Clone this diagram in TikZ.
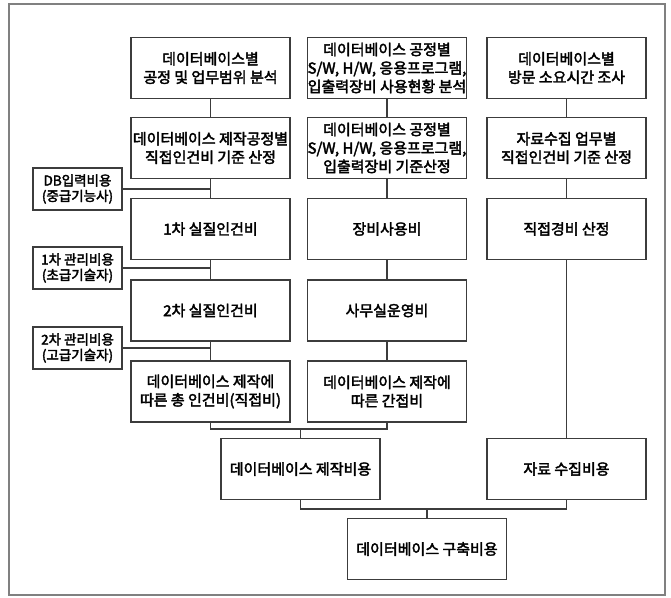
\documentclass[tikz,border=0pt]{standalone}
\usepackage{fontspec}
\setmainfont{Noto Sans CJK KR}
\newfontfamily\medfont[FakeBold=2.6]{Noto Sans CJK KR}
\usepackage{tikz}
\usetikzlibrary{calc}
\definecolor{linegray}{RGB}{60,60,60}
\tikzset{
  box/.style={draw=linegray,line width=1.2pt,minimum width=159pt,minimum height=61pt,inner sep=0pt,align=center,
    font=\medfont\fontsize{15}{18.5}\selectfont},
  sidebox/.style={draw=linegray,line width=1.2pt,minimum width=89pt,minimum height=42pt,inner sep=0pt,align=center,
    font=\medfont\fontsize{13.5}{15.5}\selectfont},
  link/.style={draw=linegray,line width=1.2pt}
}

\begin{document}
\begin{tikzpicture}[x=1pt,y=-1pt]
\useasboundingbox (0,0) rectangle (671,597);
\draw [gray,line width=1.4pt] (9,4) rectangle (665,595);
% column 1
\node [box] (a1) at (210.5,68) {데이터베이스별\\공정 및 업무범위 분석};
\node [box] (a2) at (210.5,148) {데이터베이스 제작공정별\\직접인건비 기준 산정};
\node [box] (a3) at (210.5,229) {1차 실질인건비};
\node [box] (a4) at (210.5,310.5) {2차 실질인건비};
\node [box] (a5) at (210.5,391.5) {데이터베이스 제작에\\따른 총 인건비(직접비)};
% column 2
\node [box] (b1) at (387,68) {데이터베이스 공정별\\S/W, H/W, 응용프로그램,\\입출력장비 사용현황 분석};
\node [box] (b2) at (387,148) {데이터베이스 공정별\\S/W, H/W, 응용프로그램,\\입출력장비 기준산정};
\node [box] (b3) at (387,229) {장비사용비};
\node [box] (b4) at (387,310.5) {사무실운영비};
\node [box] (b5) at (387,391.5) {데이터베이스 제작에\\따른 간접비};
% column 3
\node [box] (c1) at (566.5,68) {데이터베이스별\\방문 소요시간 조사};
\node [box] (c2) at (566.5,148) {자료수집 업무별\\직접인건비 기준 산정};
\node [box] (c3) at (566.5,229) {직접경비 산정};
% side costs
\node [sidebox] (s1) at (77.5,189) {DB입력비용\\(중급기능사)};
\node [sidebox] (s2) at (77.5,268) {1차 관리비용\\(초급기술자)};
\node [sidebox] (s3) at (77.5,348) {2차 관리비용\\(고급기술자)};
% totals
\node [box] (d1) at (300.5,469) {데이터베이스 제작비용};
\node [box] (d2) at (566.5,469) {자료 수집비용};
\node [box] (e) at (427,549) {데이터베이스 구축비용};
\coordinate (j1) at (300.5,429);
\coordinate (j2) at (427,509);
%
\draw [link] (a1) -- (a2);
\draw [link] (a2) -- (a3);
\draw [link] (a3) -- (a4);
\draw [link] (a4) -- (a5);
\draw [link] (b1) -- (b2);
\draw [link] (b2) -- (b3);
\draw [link] (b3) -- (b4);
\draw [link] (b4) -- (b5);
\draw [link] (c1) -- (c2);
\draw [link] (c2) -- (c3);
\draw [link] (c3) -- (d2);
\draw [link] (s1.east) -- (s1.east -| a2.south);
\draw [link] (s2.east) -- (s2.east -| a3.south);
\draw [link] (s3.east) -- (s3.east -| a4.south);
%
\draw [link] (a5.south) -- (a5.south |- j1) -- (b5.south |- j1) -- (b5.south);
\draw [link] (j1) -- (d1.north);
\draw [link] (d1.south) -- (d1.south |- j2) -- (d2.south |- j2) -- (d2.south);
\draw [link] (j2) -- (e.north);
\end{tikzpicture}
\end{document}
